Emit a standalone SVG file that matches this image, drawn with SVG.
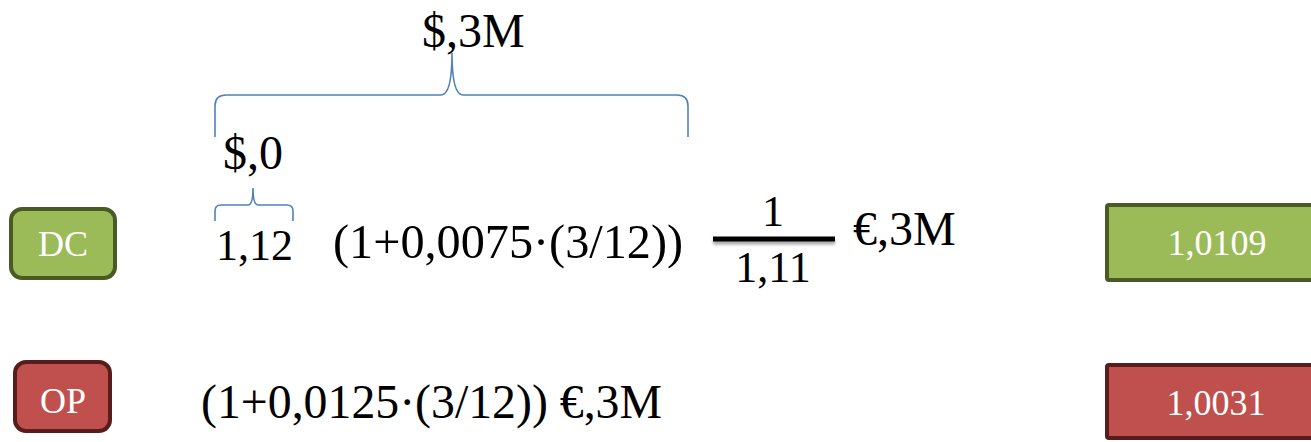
<svg xmlns="http://www.w3.org/2000/svg" width="1311" height="442" viewBox="0 0 1311 442">
<style>
text{font-family:"Liberation Serif","Times New Roman",serif}
.t{fill:#000}
.w{fill:#fff;text-anchor:middle;font-size:36px}
.g{fill:#9bbb59;stroke:#4a5a24;stroke-width:4}
.r{fill:#c0504d;stroke:#561d1c;stroke-width:4}
.brace{fill:none;stroke:#4f81bd;stroke-width:1.6}
</style>
<defs>
<filter id="sh" filterUnits="userSpaceOnUse" x="700" y="225" width="150" height="35">
<feGaussianBlur in="SourceAlpha" stdDeviation="1.5"/>
<feOffset dy="3" result="b"/>
<feComponentTransfer><feFuncA type="linear" slope="0.35"/></feComponentTransfer>
<feMerge><feMergeNode/><feMergeNode in="SourceGraphic"/></feMerge>
</filter>
</defs>
<g id="connectors">
<path class="brace" d="M215,137 L215,106 Q215,95 226,95 L441,95 Q452,95 452,53 Q452,95 463,95 L677,95 Q688,95 688,106 L688,137"/>
<path class="brace" d="M215,221 L215,211 Q215,205 221,205 L248,205 Q253,205 253,188 Q253,205 258,205 L287,205 Q293,205 293,211 L293,221"/>
</g>
<g id="node-dc">
<rect class="g" x="11" y="209" width="104" height="69" rx="11"/>
<text class="w" x="63" y="256">DC</text>
</g>
<g id="node-op">
<rect class="r" x="15" y="362" width="95" height="69" rx="11"/>
<text class="w" x="63" y="413">OP</text>
</g>
<g id="result-dc">
<rect class="g" x="1107" y="205" width="230" height="75" rx="2"/>
<text class="w" x="1217" y="255">1,0109</text>
</g>
<g id="result-op">
<rect class="r" x="1107" y="365" width="230" height="73" rx="2"/>
<text class="w" x="1216" y="415">1,0031</text>
</g>
<g id="formula-dc">
<text class="t" x="422" y="47" font-size="48">$,3M</text>
<text class="t" x="223" y="169" font-size="48">$,0</text>
<text class="t" x="216" y="260" font-size="44">1,12</text>
<text class="t" x="333" y="258" font-size="48" textLength="350" lengthAdjust="spacingAndGlyphs">(1+0,0075·(3/12))</text>
<rect x="713" y="236.5" width="122" height="5" fill="#000" filter="url(#sh)"/>
<text class="t" x="773" y="226" font-size="44" text-anchor="middle">1</text>
<text class="t" x="773" y="282" font-size="44" text-anchor="middle">1,11</text>
<text class="t" x="853" y="245" font-size="48">€,3M</text>
</g>
<g id="formula-op">
<text class="t" x="201" y="418" font-size="48" textLength="461" lengthAdjust="spacingAndGlyphs">(1+0,0125·(3/12)) €,3M</text>
</g>
</svg>
